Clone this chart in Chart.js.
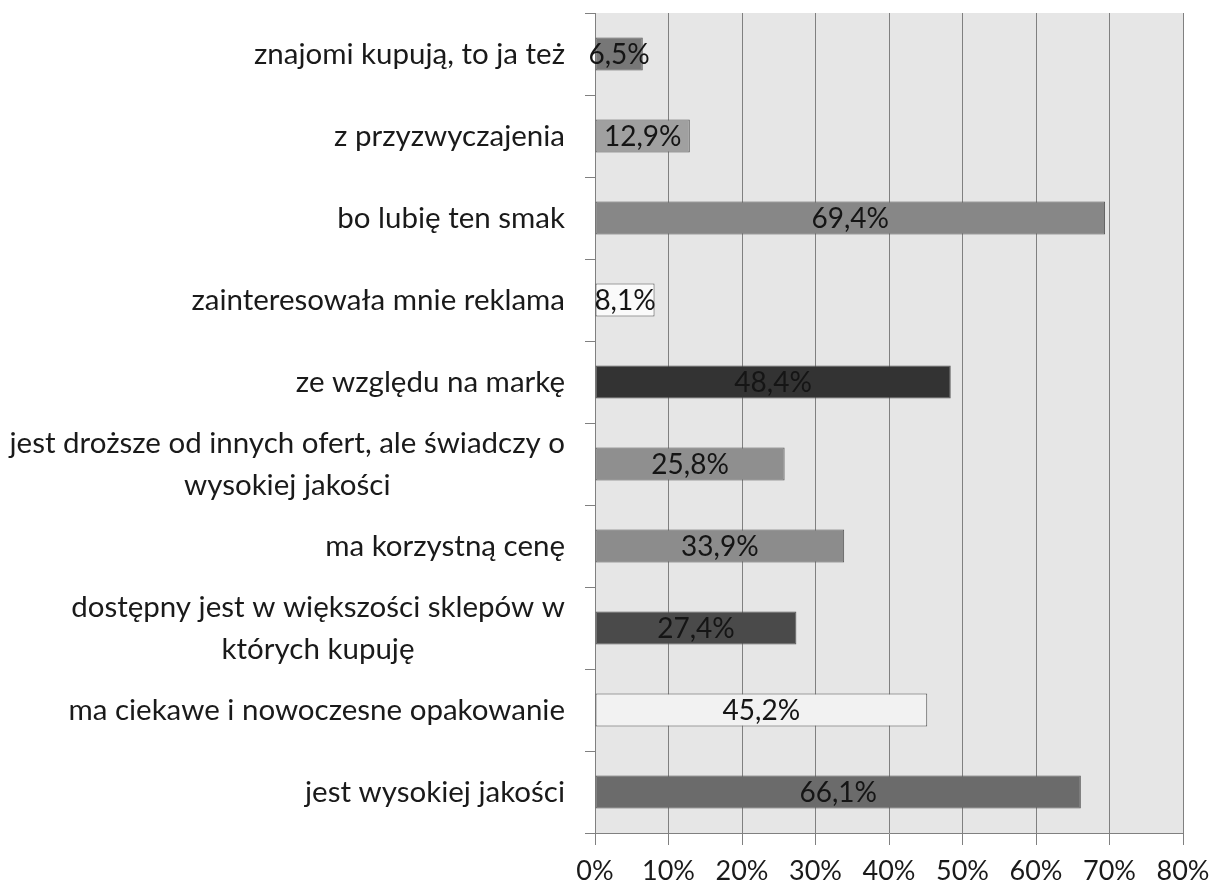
<!DOCTYPE html>
<html lang="pl">
<head>
    <meta charset="UTF-8">
    <title>Powody wyboru</title>
    <script src="https://cdn.jsdelivr.net/npm/chart.js"></script>
    <style>
        body {
            margin: 0;
            background: #fff;
        }
        .wrap {
            width: 1215px;
            height: 889px;
        }
    </style>
</head>
<body>
    <div class="wrap"><canvas id="chart"></canvas></div>

    <script>
        const categories = [
            ['znajomi kupują, to ja też'],
            ['z przyzwyczajenia'],
            ['bo lubię ten smak'],
            ['zainteresowała mnie reklama'],
            ['ze względu na markę'],
            ['jest droższe od innych ofert, ale świadczy o', 'wysokiej jakości'],
            ['ma korzystną cenę'],
            ['dostępny jest w większości sklepów w', 'których kupuję'],
            ['ma ciekawe i nowoczesne opakowanie'],
            ['jest wysokiej jakości']
        ];
        const values = [6.5, 12.9, 69.4, 8.1, 48.4, 25.8, 33.9, 27.4, 45.2, 66.1];
        const barColors = ['#777777', '#a0a0a0', '#878787', '#fafafa', '#333333',
                           '#8f8f8f', '#8c8c8c', '#4a4a4a', '#f2f2f2', '#6b6b6b'];
        const xTicks = [0, 10, 20, 30, 40, 50, 60, 70, 80];

        const FONT = 'Lato';

        // grey plot background
        const plotBg = {
            id: 'plotBg',
            beforeDraw(chart) {
                const a = chart.chartArea, ctx = chart.ctx;
                ctx.save();
                ctx.fillStyle = '#e6e6e6';
                ctx.fillRect(a.left, a.top, a.right - a.left, a.bottom - a.top);
                ctx.restore();
            }
        };

        // category labels: right-aligned block, lines centred within it
        const catLabels = {
            id: 'catLabels',
            afterDraw(chart) {
                const ctx = chart.ctx, y = chart.scales.y;
                const right = y.right - 30;
                ctx.save();
                ctx.font = '29.5px ' + FONT;
                ctx.fillStyle = '#1a1a1a';
                ctx.textBaseline = 'middle';
                ctx.textAlign = 'center';
                const lh = 42;
                categories.forEach((lines, i) => {
                    const cy = y.getPixelForValue(i);
                    const w = Math.max(...lines.map(l => ctx.measureText(l).width));
                    const cx = right - w / 2;
                    const y0 = cy - (lines.length - 1) * lh / 2;
                    lines.forEach((l, k) => ctx.fillText(l, cx, y0 + k * lh));
                });
                ctx.restore();
            }
        };

        // value labels centred in the bars
        const valueLabels = {
            id: 'valueLabels',
            afterDatasetsDraw(chart) {
                const ctx = chart.ctx;
                const meta = chart.getDatasetMeta(0);
                ctx.save();
                ctx.font = '28px ' + FONT;
                ctx.fillStyle = '#151515';
                ctx.textAlign = 'center';
                ctx.textBaseline = 'middle';
                meta.data.forEach((bar, i) => {
                    const cx = (bar.x + bar.base) / 2;
                    ctx.fillText(values[i].toFixed(1).replace('.', ',') + '%', cx, bar.y + 1);
                });
                ctx.restore();
            }
        };

        new Chart(document.getElementById('chart'), {
            type: 'bar',
            data: {
                labels: categories.map(c => c.join(' ')),
                datasets: [{
                    data: values,
                    backgroundColor: barColors,
                    borderColor: '#555555',
                    borderWidth: 1,
                    borderSkipped: false,
                    barPercentage: 0.4,
                    categoryPercentage: 1
                }]
            },
            options: {
                indexAxis: 'y',
                responsive: true,
                maintainAspectRatio: false,
                animation: false,
                layout: { padding: { top: 13, right: 32, left: 0, bottom: 0 } },
                plugins: {
                    legend: { display: false },
                    tooltip: { enabled: false }
                },
                scales: {
                    x: {
                        min: 0,
                        max: 80,
                        afterBuildTicks(scale) {
                            scale.ticks = xTicks.map(v => ({ value: v }));
                        },
                        ticks: {
                            color: '#1a1a1a',
                            font: { family: FONT, size: 27 },
                            padding: 10,
                            maxRotation: 0,
                            callback: v => v + '%'
                        },
                        grid: {
                            color: '#808080',
                            lineWidth: 1,
                            drawTicks: true,
                            tickLength: 12,
                            tickColor: '#808080'
                        },
                        border: { display: true, color: '#808080' },
                        afterFit(scale) {
                            scale.height = 56;
                            scale.paddingLeft = 0;
                            scale.paddingRight = 0;
                        }
                    },
                    y: {
                        ticks: { display: false },
                        grid: {
                            offset: true,
                            drawOnChartArea: false,
                            drawTicks: true,
                            tickLength: 10,
                            color: '#808080'
                        },
                        border: { display: true, color: '#808080' },
                        afterFit(scale) { scale.width = 595; }
                    }
                }
            },
            plugins: [plotBg, catLabels, valueLabels]
        });
    </script>
</body>
</html>
